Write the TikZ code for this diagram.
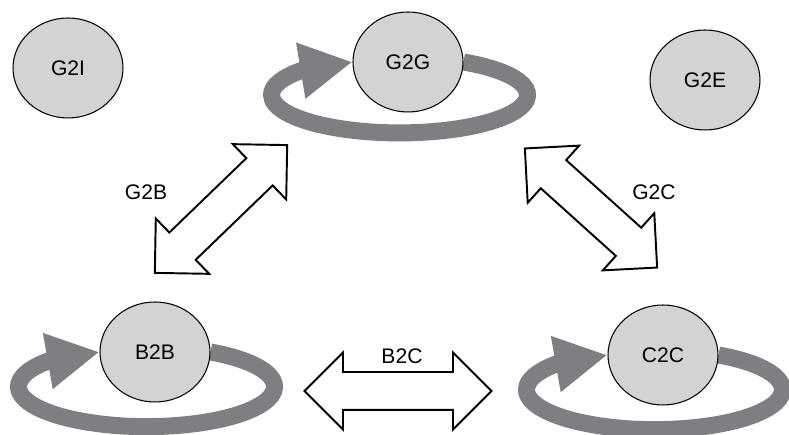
\documentclass[tikz,border=0pt]{standalone}
\usepackage{fontspec}
\setmainfont{Liberation Sans}
\usetikzlibrary{shapes.geometric,shapes.arrows,arrows.meta,backgrounds}
\definecolor{stateGray}{RGB}{211,211,213}
\definecolor{loopGray}{RGB}{126,127,131}

\begin{document}
\begin{tikzpicture}[x=0.02cm, y=0.02cm, font=\fontsize{12}{14}\selectfont,
	state/.style={ellipse, draw, line width=0.6pt, fill=stateGray, minimum width=2.2cm, minimum height=2cm},
	twoway/.style={double arrow, draw, line width=1.1pt, fill=white, inner xsep=0pt, inner ysep=0.36cm, double arrow tip angle=90, double arrow head extend=0.39cm},
	selfloop/.style={draw=loopGray, line width=0.34cm, -{Triangle[length=1.05cm, width=1.06cm]}}]
	\useasboundingbox (0,0) rectangle (789,435);
 	\node[state] (G2I) at (68,367) {G2I};
 	\node[state] (G2G) at (408,373) {G2G};
 	\node[state] (G2E) at (705,355) {G2E};
 	\node[state] (B2B) at (155,83) {B2B};
 	\node[state] (C2C) at (663,80) {C2C};
 	\begin{scope}[on background layer]
 	\draw[selfloop] (G2G.east) arc[start angle=60, end angle=-220, x radius=128, y radius=38] -- (G2G.west);
 	\draw[selfloop] (B2B.east) arc[start angle=60, end angle=-220, x radius=128, y radius=40] -- (B2B.west);
 	\draw[selfloop] (C2C.east) arc[start angle=60, end angle=-220, x radius=128, y radius=40] -- (C2C.west);
 	\end{scope}
 	\node[twoway, rotate=44, minimum height=3.68cm] (GB) at (221,226) {};
 	\node[twoway, rotate=-42, minimum height=3.56cm] (GC) at (591,227) {};
 	\node[twoway, minimum height=3.74cm] (BC) at (398,44) {};
 	\node (GBtext) at (146,243) {G2B};
 	\node (GCtext) at (654,243) {G2C};
 	\node (BCtext) at (402,79) {B2C};
\end{tikzpicture}
\end{document}
